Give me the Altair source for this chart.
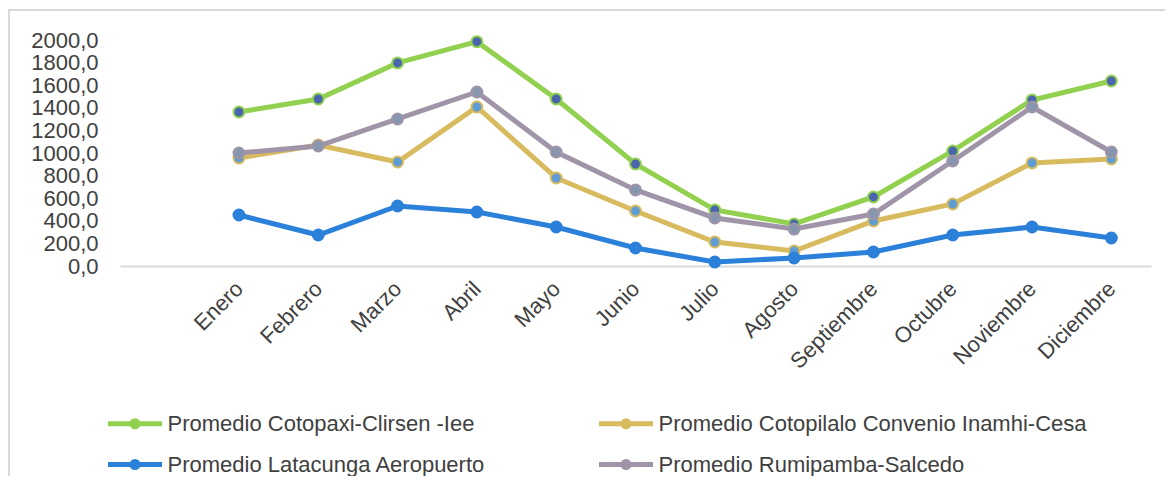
import altair as alt
import pandas as pd

months = ["Enero", "Febrero", "Marzo", "Abril", "Mayo", "Junio", "Julio",
          "Agosto", "Septiembre", "Octubre", "Noviembre", "Diciembre"]

series_names = [
    "Promedio Cotopaxi-Clirsen -Iee",
    "Promedio Cotopilalo Convenio Inamhi-Cesa",
    "Promedio Latacunga Aeropuerto",
    "Promedio Rumipamba-Salcedo",
]

cotopaxi = [1363, 1478, 1797, 1985, 1478, 903, 496, 372, 611, 1018, 1469, 1637]
cotopilalo = [956, 1071, 920, 1407, 779, 487, 212, 133, 398, 549, 912, 947]
latacunga = [451, 274, 531, 478, 345, 159, 35, 71, 124, 274, 345, 248]
rumipamba = [1000, 1062, 1301, 1540, 1009, 673, 425, 327, 460, 929, 1407, 1009]

y_ticks = [0, 200, 400, 600, 800, 1000, 1200, 1400, 1600, 1800, 2000]

line_colors = ["#92D050", "#D7BB5E", "#2B80D9", "#A095A8"]
marker_fills = ["#4A65AE", "#5E9CD3", "#2B80D9", "#8696AE"]

rows = []
for name, vals in zip(series_names, [cotopaxi, cotopilalo, latacunga, rumipamba]):
    for m, v in zip(months, vals):
        rows.append({"mes": m, "serie": name, "valor": v})
df = pd.DataFrame(rows)

W, H = 1031, 226
PAD = {"left": 112, "top": 32, "right": 14, "bottom": 210}
TXT = "#404040"
FS = 22

x_domain = [" "] + months
x_enc = alt.X(
    "mes:N",
    sort=x_domain,
    scale=alt.Scale(type="point", domain=x_domain, padding=0.5),
    axis=alt.Axis(
        title=None, labelAngle=315, labelAlign="right", labelBaseline="middle",
        labelPadding=19, ticks=False, domainColor="#D9D9D9", domainWidth=2,
        labelFontSize=FS, labelColor=TXT, labelOverlap=False, grid=False,
    ),
)
y_enc = alt.Y(
    "valor:Q",
    scale=alt.Scale(domain=[0, 2000]),
    axis=alt.Axis(
        title=None, values=y_ticks,
        labelExpr="replace(format(datum.value, '.1f'), '.', ',')",
        domain=False, ticks=False, grid=False, labelPadding=22,
        labelFontSize=FS, labelColor=TXT, labelOverlap=False,
    ),
)

legend_path = "M-1.8,0L1.8,0M0.2,0A0.2,0.2,0,1,1,-0.2,0A0.2,0.2,0,1,1,0.2,0"

color_enc = alt.Color(
    "serie:N",
    scale=alt.Scale(domain=series_names, range=line_colors),
    legend=alt.Legend(
        title=None, orient="none", direction="horizontal", legendX=-2.5,
        legendY=366, columns=2, columnPadding=103, rowPadding=10,
        symbolType=legend_path, symbolSize=900, symbolStrokeWidth=5,
        labelFontSize=FS, labelColor=TXT, labelOffset=15, padding=0,
        labelLimit=700,
    ),
)
fill_enc = alt.Fill("serie:N", scale=alt.Scale(domain=series_names, range=marker_fills), legend=None)
stroke_enc = alt.Stroke("serie:N", scale=alt.Scale(domain=series_names, range=line_colors), legend=None)

base = alt.Chart(df)
layers = []
for name in series_names:
    sub = base.transform_filter(alt.datum.serie == name)
    layers.append(sub.mark_line(strokeWidth=5).encode(x=x_enc, y=y_enc, color=color_enc))
    layers.append(sub.mark_circle(size=120, strokeWidth=2, opacity=1).encode(
        x=x_enc, y=y_enc, fill=fill_enc, stroke=stroke_enc))

frame = pd.DataFrame({"k": [0]})
top_border = alt.Chart(frame).mark_rule(color="#D9D9D9", strokeWidth=2).encode(
    x=alt.value(-112), x2=alt.value(W + 14), y=alt.value(-30))
left_border = alt.Chart(frame).mark_rule(color="#D9D9D9", strokeWidth=2).encode(
    x=alt.value(-111), y=alt.value(-30), y2=alt.value(H + 210))

chart = alt.layer(*layers, top_border, left_border).properties(
    width=W, height=H, autosize="none", padding=PAD,
).configure(font="Liberation Sans").configure_view(stroke="transparent", strokeWidth=0)

chart.save("out.html", embed_options={"renderer": "svg", "actions": False})
